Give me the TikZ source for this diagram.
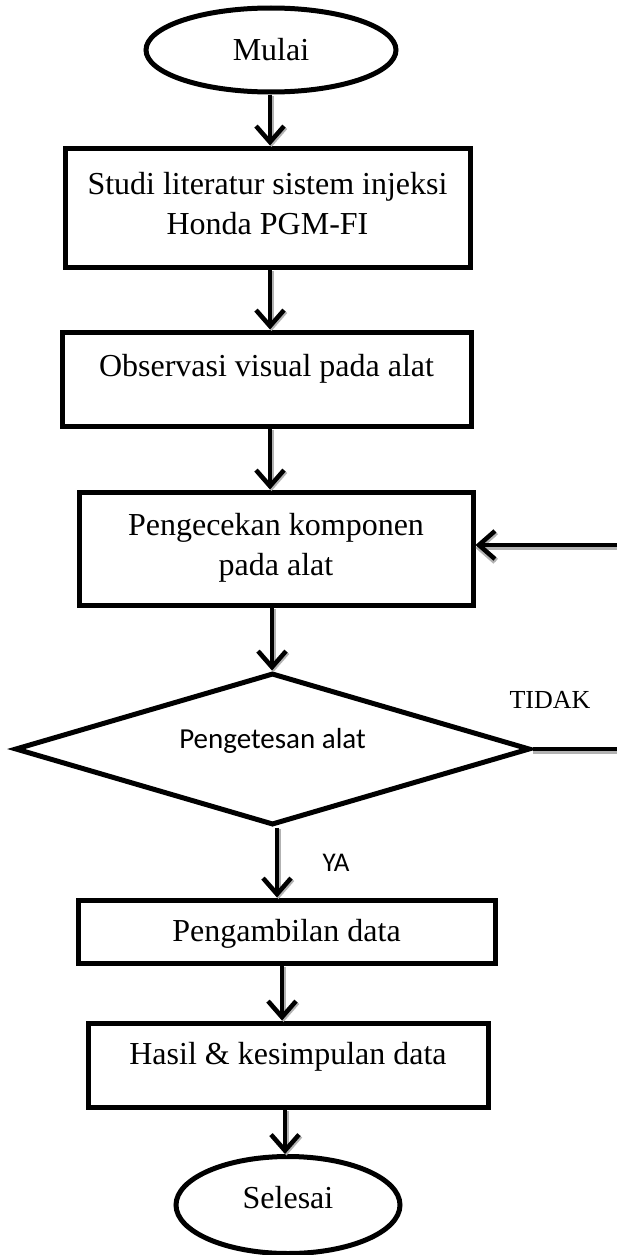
\documentclass[tikz,border=0pt]{standalone}
\usepackage{fontspec}
\setmainfont{Liberation Serif}
\newfontfamily\calib{Carlito}
\usetikzlibrary{arrows.meta,shapes.geometric}
\begin{document}
\begin{tikzpicture}[x=1pt,y=-1pt,
  boxst/.style={draw,line width=5pt,rectangle,inner sep=0pt,align=center,
    font=\fontsize{32}{40}\selectfont},
  ellst/.style={draw,line width=5pt,ellipse,inner sep=0pt,
    font=\fontsize{32}{40}\selectfont},
  flow/.style={line width=4pt,-{Straight Barb[length=16pt,width=28pt,line width=4.5pt]},
    preaction={draw=gray!60,line width=4pt,transform canvas={shift={(1.5pt,-1.5pt)}}}},
  plain/.style={line width=4pt,
    preaction={draw=gray!60,line width=4pt,transform canvas={shift={(0pt,-3pt)}}}},
  lbl/.style={inner sep=0pt,font=\fontsize{26}{30}\selectfont}]
\useasboundingbox (0,0) rectangle (617,1255);
\fill[white] (0,0) rectangle (617,1255);

\node[ellst,minimum width=250pt,minimum height=84pt] (mulai) at (271,50) {Mulai};
\node[boxst,minimum width=405pt,minimum height=119pt,text depth=9pt] (b1) at (267.5,207.5)
  {Studi literatur sistem injeksi\\Honda PGM-FI};
\node[boxst,minimum width=409pt,minimum height=94pt,text depth=28pt] (b2) at (266.5,379)
  {Observasi visual pada alat};
\node[boxst,minimum width=394pt,minimum height=113pt,text depth=9pt] (b3) at (276,548.5)
  {Pengecekan komponen\\pada alat};
\node[draw,line width=5pt,diamond,shape aspect=3.39,minimum width=515pt,minimum height=152pt,inner sep=0pt,
  font=\calib\fontsize{29}{34}\selectfont,text depth=22pt] (d) at (272.5,749)
  {Pengetesan alat};
\node[boxst,minimum width=417pt,minimum height=63pt,text depth=3pt] (b4) at (286.5,931.5)
  {Pengambilan data};
\node[boxst,minimum width=400pt,minimum height=84pt,text depth=24pt] (b5) at (288,1065)
  {Hasil \& kesimpulan data};
\node[ellst,minimum width=224pt,minimum height=97pt,text depth=16pt] (selesai) at (288,1205)
  {Selesai};

\coordinate (fbin) at (617,545);
\coordinate (fbout) at (617,749);

\draw[flow] (mulai.south -| 270,0) -- (b1.north -| 270,0);
\draw[flow] (b1.south -| 270,0) -- (b2.north -| 270,0);
\draw[flow] (b2.south -| 270,0) -- (b3.north -| 270,0);
\draw[flow] (b3.south -| 272,0) -- (d.north -| 272,0);
\draw[flow] (d.south -| 277,0) -- (b4.north -| 277,0);
\draw[flow] (b4.south -| 282,0) -- (b5.north -| 282,0);
\draw[flow] (b5.south -| 285,0) -- (selesai.north -| 285,0);
\draw[plain] (d.east) -- (fbout);
\draw[flow,preaction={draw=gray!60,line width=4pt,transform canvas={shift={(0pt,-3pt)}}}] (fbin) -- (b3.east |- fbin);

\node[lbl] (tidak) at (550,700) {TIDAK};
\node[lbl,font=\calib\fontsize{27}{30}\selectfont] (ya) at (336,863) {YA};
\end{tikzpicture}
\end{document}
